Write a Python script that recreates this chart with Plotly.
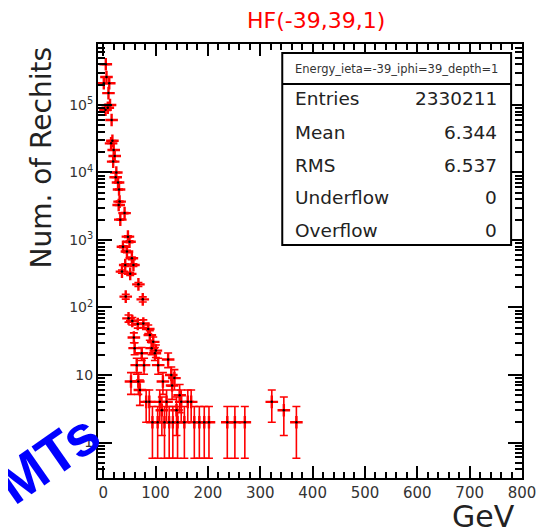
import math
import plotly.graph_objects as go

# ---- data (GeV, number of rechits) ----
energy = [1.1, 4.3, 4.9, 6.2, 8.7, 10, 11.5, 13, 15, 16, 17.5, 19, 20, 21.9,
          23.8, 25, 28.3, 29.5, 30.2, 31.3, 32.6, 35.8, 37.7, 40.8, 42, 43,
          45.3, 47.2, 48.3, 50.2, 51.5, 53, 54.7, 55.5, 57.7, 58.5, 60, 64,
          66, 67, 67.2, 70, 73.6, 75.5, 76.6, 78, 86, 89, 92.5, 95.5, 98.7,
          100.6, 105, 114, 124, 130, 131.5, 136, 146,
          82, 88, 108, 121, 149, 161.5, 168, 322,
          112, 140, 345,
          94, 104, 117, 126, 133, 142, 155, 174, 183.6, 193, 202, 237, 251.5,
          270.5, 369]
counts = [2.1e5, 8.5e4, 4.0e5, 2.6e5, 9.1e4, 1.5e5, 2.1e5, 1.0e5, 2.7e4, 6.0e4,
          2.95e4, 1.45e4, 2.15e4, 1.75e4, 8.5e3, 1.0e4, 7.1e3, 3.3e3, 5.6e3,
          3.7e3, 2.0e3, 340, 795, 2.5e3, 425, 145, 675, 1120, 69, 940, 315, 8,
          535, 63, 425, 36, 25, 14, 57, 8, 220, 6, 21, 132, 58, 14, 48, 39, 25,
          31, 21, 23, 14, 8, 17, 10, 7, 9, 5,
          4, 4, 4, 4, 4, 4, 4, 4,
          3, 3, 3,
          2, 2, 2, 2, 2, 2, 2, 2, 2, 2, 2, 2, 2, 2, 2]
errors = [math.sqrt(c) for c in counts]

x_ticks = [0, 100, 200, 300, 400, 500, 600, 700, 800]
y_tickvals = [1, 10, 100, 1000, 10000, 100000]
y_ticktext = ["1", "10", "10<sup>2</sup>", "10<sup>3</sup>", "10<sup>4</sup>", "10<sup>5</sup>"]

stats_title = "Energy_ieta=-39_iphi=39_depth=1"
stats_labels = ["Entries", "Mean", "RMS", "Underflow", "Overflow"]
stats_values = ["2330211", "6.344", "6.537", "0", "0"]

# ---- geometry: the page body has an 8px margin, so the figure starts at (8,8) ----
OFF = 8
W, H = 540, 524
L, R, T, B = 90, 22, 36, 54
PW, PH = W - L - R, H - T - B


def px(p):
    """reference-picture x pixel -> paper x"""
    return (p - OFF - L) / PW


def py(p):
    """reference-picture y pixel -> paper y"""
    return (H - B - (p - OFF)) / PH


FONT = "DejaVu Sans, Liberation Sans, Arial, sans-serif"

fig = go.Figure()
fig.add_trace(go.Scatter(
    x=energy, y=counts, mode="markers",
    error_y=dict(type="data", array=errors, color="#ff0000", thickness=1.6, width=4),
    marker=dict(symbol="cross-thin-open", size=9, color="#ff0000",
                line=dict(color="#ff0000", width=2.4)),
    showlegend=False, hoverinfo="skip"))
fig.add_trace(go.Scatter(
    x=energy, y=counts, mode="markers",
    marker=dict(symbol="circle", size=2.5, color="black"),
    showlegend=False, hoverinfo="skip"))

minor_y = [k * 10 ** d for d in range(-1, 6) for k in range(2, 10)]
minor_y = [v for v in minor_y if 0.3 <= v <= 8e5]

fig.update_layout(
    width=W, height=H,
    margin=dict(l=L, r=R, t=T, b=B),
    paper_bgcolor="white", plot_bgcolor="white",
    xaxis=dict(range=[-10, 800], tickmode="array", tickvals=x_ticks,
               ticks="inside", ticklen=12, tickwidth=1.5, tickcolor="black",
               showline=True, linecolor="black", linewidth=2, mirror="ticks",
               showgrid=False, zeroline=False,
               tickfont=dict(family=FONT, size=15, color="#333333"),
               minor=dict(ticks="inside", ticklen=6, tickwidth=1.5, tickcolor="black",
                          dtick=20, tick0=0, showgrid=False)),
    yaxis=dict(type="log", range=[math.log10(0.298), math.log10(8.0e5)],
               tickmode="array", tickvals=y_tickvals, ticktext=y_ticktext,
               ticks="inside", ticklen=14, tickwidth=1.5, tickcolor="black",
               showline=True, linecolor="black", linewidth=2, mirror="ticks",
               showgrid=False, zeroline=False,
               tickfont=dict(family=FONT, size=14, color="#333333"),
               minor=dict(ticks="inside", ticklen=7, tickwidth=1.5, tickcolor="black",
                          tickmode="array", tickvals=minor_y, showgrid=False)),
)

shapes = [
    dict(type="rect", xref="paper", yref="paper", x0=px(284), x1=px(515),
         y0=py(245), y1=py(53), line=dict(color="black", width=2),
         fillcolor="white", layer="above"),
    dict(type="line", xref="paper", yref="paper", x0=px(284), x1=px(515),
         y0=py(84), y1=py(84), line=dict(color="black", width=2), layer="above"),
]
fig.update_layout(shapes=shapes)

ann = []
ann.append(dict(text="HF(-39,39,1)", x=px(318), y=py(20), xref="paper", yref="paper",
                showarrow=False, xanchor="center", yanchor="middle",
                font=dict(family=FONT, size=22, color="#ff0000")))
ann.append(dict(text="Num. of Rechits", x=px(40), y=py(158), xref="paper", yref="paper",
                showarrow=False, textangle=-90, xanchor="center", yanchor="middle",
                font=dict(family=FONT, size=28, color="#222222")))
ann.append(dict(text="GeV", x=px(521), y=py(516), xref="paper", yref="paper",
                showarrow=False, xanchor="right", yanchor="middle",
                font=dict(family=FONT, size=30, color="#222222")))
ann.append(dict(text=stats_title, x=px(399), y=py(69), xref="paper", yref="paper",
                showarrow=False, xanchor="center", yanchor="middle",
                font=dict(family=FONT, size=11.5, color="#333333")))
row_y = [99, 132, 165, 197, 230]
for lab, val, yy in zip(stats_labels, stats_values, row_y):
    ann.append(dict(text=lab, x=px(295), y=py(yy), xref="paper", yref="paper",
                    showarrow=False, xanchor="left", yanchor="middle",
                    font=dict(family=FONT, size=18.5, color="#222222")))
    ann.append(dict(text=val, x=px(503), y=py(yy), xref="paper", yref="paper",
                    showarrow=False, xanchor="right", yanchor="middle",
                    font=dict(family=FONT, size=18.5, color="#222222")))
ann.append(dict(text="<b>MTs</b>", x=px(48), y=py(458), xref="paper", yref="paper",
                showarrow=False, textangle=-35, xanchor="center", yanchor="middle",
                font=dict(family="Liberation Sans, Arial, sans-serif", size=57, color="#0000ff")))
fig.update_layout(annotations=ann)

fig.write_html("out.html")
